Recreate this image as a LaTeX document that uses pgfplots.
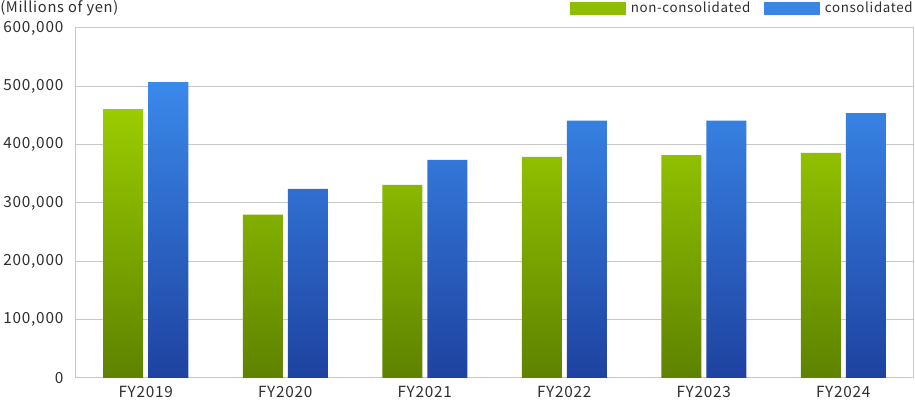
\documentclass[border=0pt]{standalone}
\usepackage{fontspec}
\setmainfont[LetterSpace=5]{Noto Sans CJK JP}
\usepackage{pgfplots}
\pgfplotsset{compat=1.18}
\definecolor{greenTop}{HTML}{9ACC00}
\definecolor{greenBot}{HTML}{5E8200}
\definecolor{greenLeg}{HTML}{8FBE00}
\definecolor{blueTop}{HTML}{3A89EB}
\definecolor{blueBot}{HTML}{1E42A0}
\definecolor{blueLeg}{HTML}{3A84E6}
\definecolor{gridc}{HTML}{C8C8C8}
\definecolor{txt}{HTML}{2E2E2E}

\begin{document}
\begin{tikzpicture}
% 1px = 0.75pt, picture is 915x400 px
\useasboundingbox (0pt,0pt) rectangle (686.25pt,300pt);
\begin{axis}[
    at={(57pt,16.5pt)}, anchor=south west,
    scale only axis,
    width=627.75pt, height=262.5pt,
    xmin=-0.5, xmax=5.5,
    ymin=0, ymax=600000,
    xtick={0,1,2,3,4,5},
    xticklabels={FY2019,FY2020,FY2021,FY2022,FY2023,FY2024},
    ytick={0,100000,200000,300000,400000,500000,600000},
    scaled y ticks=false,
    /pgf/number format/assume math mode=true,
    yticklabel style={/pgf/number format/fixed,/pgf/number format/1000 sep={,}},
    major tick length=0pt,
    ymajorgrids,
    grid style={gridc, line width=0.75pt},
    axis line style={gridc, line width=0.75pt},
    ticklabel style={font=\fontsize{11.5}{13}\selectfont, text=txt},
    yticklabel style={xshift=-6pt},
    xticklabel style={yshift=-3pt},
    ybar, bar width=30pt,
    legend columns=2,
    legend style={at={(1,1)}, anchor=south east, yshift=10pt, draw=none, fill=none,
        inner sep=0pt, font=\fontsize{10}{12}\selectfont, text=txt,
        nodes={inner sep=0pt},
        /tikz/every odd column/.append style={column sep=3.75pt},
        /tikz/every even column/.append style={column sep=10.5pt}},
]
\addplot[draw=none, top color=greenTop, bottom color=greenBot, bar shift=-16.875pt, forget plot]
  coordinates {(0,461000)(1,280000)(2,331000)(3,379000)(4,382000)(5,386000)};
\addplot[draw=none, top color=blueTop, bottom color=blueBot, bar shift=16.875pt, forget plot]
  coordinates {(0,507000)(1,324000)(2,374000)(3,441000)(4,441000)(5,454000)};
\addlegendimage{legend image code/.code={\fill[greenLeg] (0pt,-4.5pt) rectangle (41.25pt,4.5pt);}}
\addlegendentry{non-consolidated}
\addlegendimage{legend image code/.code={\fill[blueLeg] (0pt,-4.5pt) rectangle (41.25pt,4.5pt);}}
\addlegendentry{consolidated}
\end{axis}
\node[anchor=west, inner sep=0pt, text=txt, font=\fontsize{11}{13}\selectfont] at (0pt,293.5pt) {(Millions of yen)};
\end{tikzpicture}
\end{document}
